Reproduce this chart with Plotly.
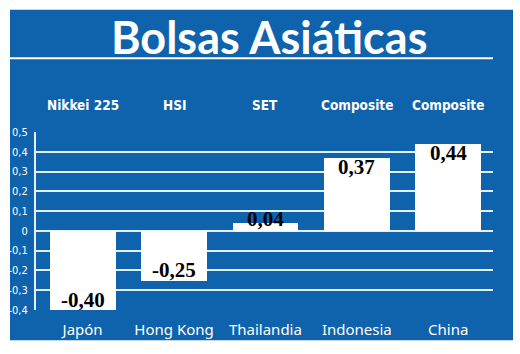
import plotly.graph_objects as go

countries = ["Japón", "Hong Kong", "Thailandia", "Indonesia", "China"]
indices = ["Nikkei 225", "HSI", "SET", "Composite", "Composite"]
values = [-0.40, -0.25, 0.04, 0.37, 0.44]
value_labels = ["-0,40", "-0,25", "0,04", "0,37", "0,44"]
ytick_vals = [-0.4, -0.3, -0.2, -0.1, 0, 0.1, 0.2, 0.3, 0.4, 0.5]
ytick_text = ["-0,4", "-0,3", "-0,2", "-0,1", "0", "0,1", "0,2", "0,3", "0,4", "0,5"]
title = "Bolsas Asiáticas"

W, H = 520, 354
BLUE = "#0f62ac"
GRID = "#e2f1ff"

fig = go.Figure()
fig.add_trace(go.Bar(
    x=list(range(len(countries))), y=values,
    marker=dict(color="white", line=dict(width=0)),
    width=0.72, hoverinfo="skip",
))

annotations = []
for i, (v, lab) in enumerate(zip(values, value_labels)):
    if abs(v) < 0.1:
        shift = 4
    elif v > 0:
        shift = -9
    else:
        shift = 10
    annotations.append(dict(
        x=i, y=v, xref="x", yref="y", text=f"<b>{lab}</b>", showarrow=False,
        yshift=shift, yanchor="middle",
        font=dict(family="Liberation Serif, Times New Roman, serif", size=21, color="black"),
    ))
for i, name in enumerate(indices):
    annotations.append(dict(
        x=i, y=1 - 102 / H, xref="x", yref="paper", text=f"<b>{name}</b>", showarrow=False,
        yanchor="middle",
        font=dict(family="DejaVu Sans Condensed, sans-serif", size=13.5, color="white"),
    ))
annotations.append(dict(
    x=269 / W, y=1 - 32 / H, xref="paper", yref="paper", text=f"<b>{title}</b>",
    showarrow=False, yanchor="middle", xanchor="center",
    font=dict(family="Lato, sans-serif", size=45, color="white"),
))

shapes = [
    dict(type="rect", xref="paper", yref="paper", x0=10 / W, x1=513 / W,
         y0=1 - 346 / H, y1=1 - 4 / H, fillcolor=BLUE, line=dict(width=0), layer="below"),
    dict(type="line", xref="paper", yref="paper", x0=10 / W, x1=493 / W,
         y0=1 - 54 / H, y1=1 - 54 / H, line=dict(color="white", width=2)),
]

fig.update_layout(
    width=W, height=H, margin=dict(l=0, r=0, t=0, b=0),
    paper_bgcolor="white", plot_bgcolor="rgba(0,0,0,0)",
    showlegend=False, bargap=0,
    annotations=annotations, shapes=shapes,
    xaxis=dict(
        domain=[36 / W, 493 / W], range=[-0.51, 4.49],
        tickvals=list(range(len(countries))), ticktext=countries,
        tickfont=dict(family="Noto Sans, sans-serif", size=15, color="white"),
        showgrid=False, zeroline=False, showline=False, ticks="", ticklabelstandoff=9,
    ),
    yaxis=dict(
        domain=[1 - 315 / H, 1 - 130 / H], range=[-0.402, 0.502],
        tickvals=ytick_vals, ticktext=ytick_text,
        tickfont=dict(family="DejaVu Sans Condensed, sans-serif", size=11, color="white"),
        showgrid=True, gridcolor=GRID, gridwidth=2,
        zeroline=True, zerolinecolor=GRID, zerolinewidth=2,
        showline=True, linecolor=GRID, linewidth=2, ticks="", ticklabelstandoff=4,
    ),
)

fig.write_html("out.html")
